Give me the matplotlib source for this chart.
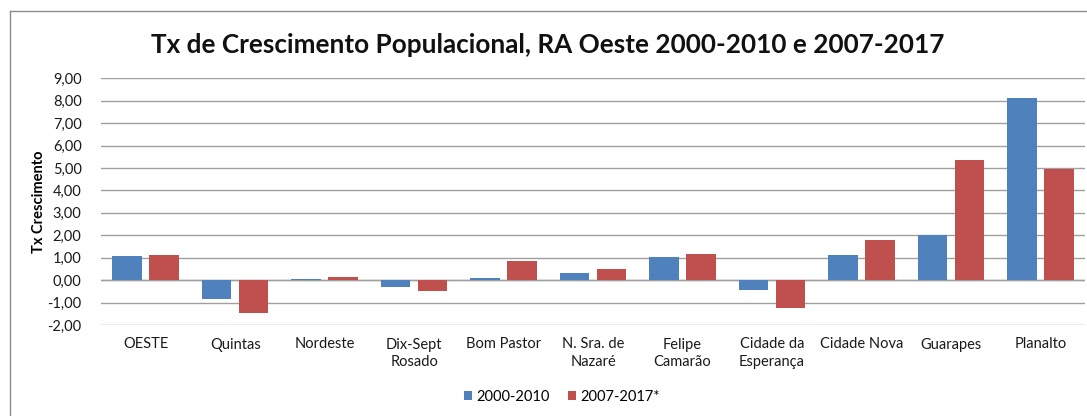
import matplotlib
matplotlib.use("Agg")
import matplotlib.pyplot as plt
import numpy as np
from matplotlib.lines import Line2D
from matplotlib.patches import Patch
from matplotlib.ticker import FuncFormatter

categories = ["OESTE", "Quintas", "Nordeste", "Dix-Sept\nRosado", "Bom Pastor",
              "N. Sra. de\nNazaré", "Felipe\nCamarão", "Cidade da\nEsperança",
              "Cidade Nova", "Guarapes", "Planalto"]
serie_2000_2010 = [1.09, -0.82, 0.06, -0.31, 0.10, 0.33, 1.04, -0.45, 1.13, 2.01, 8.13]
serie_2007_2017 = [1.13, -1.46, 0.15, -0.48, 0.87, 0.49, 1.18, -1.25, 1.78, 5.37, 4.94]
series_names = ["2000-2010", "2007-2017*"]
title = "Tx de Crescimento Populacional, RA Oeste 2000-2010 e 2007-2017"
ylabel = "Tx Crescimento"
yticks = [-2, -1, 0, 1, 2, 3, 4, 5, 6, 7, 8, 9]

FONT = ["Lato", "DejaVu Sans"]
plt.rcParams['font.family'] = FONT

W, H = 1087, 416
fig = plt.figure(figsize=(W / 100, H / 100), dpi=100)
fig.patch.set_facecolor("white")

left, right, top, bottom = 101, 1085, 78.3, 325
ax = fig.add_axes([left / W, 1 - bottom / H, (right - left) / W, (bottom - top) / H])

blue = "#4F81BD"
red = "#C0504D"
x = np.arange(len(categories))
bw = 0.33
off = 0.207
ax.bar(x - off, serie_2000_2010, width=bw, color=blue, zorder=3)
ax.bar(x + off, serie_2007_2017, width=bw, color=red, zorder=3)

ax.set_xlim(-0.5, len(categories) - 0.5)
ax.set_ylim(-2, 9)
ax.set_yticks(yticks)
ax.yaxis.set_major_formatter(FuncFormatter(lambda v, p: f"{v:.2f}".replace(".", ",")))
ax.grid(axis="y", color="#A0A0A0", linewidth=1.0, zorder=0)
ax.axhline(0, color="#A0A0A0", linewidth=1.0, zorder=2)
for s in ax.spines.values():
    s.set_visible(False)
ax.tick_params(axis="y", length=0, pad=14, labelsize=10.5, labelcolor="#1a1a1a")
ax.set_xticks(x)
ax.set_xticklabels(categories, fontsize=10.5, color="#1a1a1a", linespacing=1.35)
ax.tick_params(axis="x", length=0, pad=9)

ax.set_ylabel(ylabel, fontsize=10.5, fontweight="bold")
ax.yaxis.set_label_coords(-0.056, 0.5)

fig.text(548 / W, 1 - 45 / H, title, ha="center", va="center",
         fontsize=18.8, fontweight="bold", color="#111111")

handles = [Patch(facecolor=blue, edgecolor="none"), Patch(facecolor=red, edgecolor="none")]
fig.legend(handles, series_names, loc="center", bbox_to_anchor=(562 / W, 1 - 397 / H),
           ncol=2, frameon=False, fontsize=10.5, handlelength=0.6, handleheight=0.6,
           handletextpad=0.3, columnspacing=1.2)

# chart area border (partially visible)
fig.add_artist(Line2D([10 / W, 1.0], [1 - 11 / H, 1 - 11 / H], color="#8C8C8C", linewidth=1.0,
                      transform=fig.transFigure))
fig.add_artist(Line2D([10 / W, 10 / W], [0, 1 - 11 / H], color="#8C8C8C", linewidth=1.0,
                      transform=fig.transFigure))

fig.savefig("out.png", dpi=100)
